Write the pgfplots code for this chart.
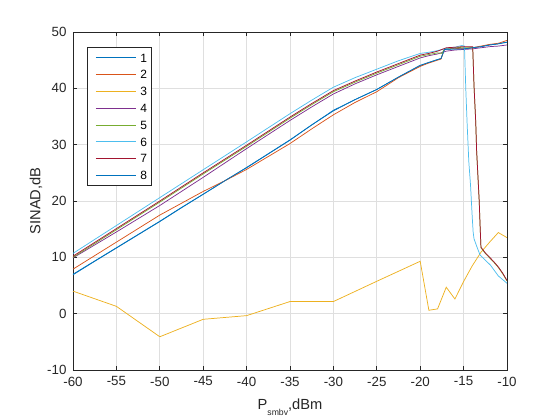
\documentclass[border=0pt]{standalone}
\usepackage{fontspec}
\setmainfont{Liberation Sans}
\usepackage{pgfplots}
\pgfplotsset{compat=1.18}
\definecolor{c1}{rgb}{0,0.447,0.741}
\definecolor{c2}{rgb}{0.85,0.325,0.098}
\definecolor{c3}{rgb}{0.929,0.694,0.125}
\definecolor{c4}{rgb}{0.494,0.184,0.556}
\definecolor{c5}{rgb}{0.466,0.674,0.188}
\definecolor{c6}{rgb}{0.301,0.745,0.933}
\definecolor{c7}{rgb}{0.635,0.078,0.184}
\definecolor{axc}{rgb}{0.15,0.15,0.15}
\definecolor{gridc}{rgb}{0.875,0.875,0.875}
\begin{document}
\begin{tikzpicture}
\useasboundingbox (0,0) rectangle (420pt,315pt);
\begin{axis}[
  at={(54.75pt,37.5pt)}, anchor=south west,
  scale only axis, width=325.5pt, height=253.5pt,
  xmin=-60, xmax=-10, ymin=-10, ymax=50,
  xtick={-60,-55,-50,-45,-40,-35,-30,-25,-20,-15,-10},
  xticklabels={-60,-55,-50,-45,-40,-35,-30,-25,-20,-15,-10},
  ytick={-10,0,10,20,30,40,50},
  yticklabels={-10,0,10,20,30,40,50},
  tick pos=both, tick align=inside, major tick length=3.3pt,
  axis line style={draw=axc, line width=0.65pt},
  every tick/.style={draw=axc, line width=0.65pt},
  grid=major, major grid style={draw=gridc, line width=0.7pt},
  ticklabel style={font=\fontsize{10}{12}\selectfont, text=axc, inner sep=0pt},
  xticklabel style={anchor=north},
  yticklabel style={anchor=east},
  x tick label style={yshift=-4.9pt},
  y tick label style={xshift=-4.7pt},
  xlabel={P\raisebox{-4.3pt}{\fontsize{6.5}{7}\selectfont smbv},dBm},
  ylabel={SINAD,dB},
  xlabel style={at={(axis description cs:0.5,-0.1164)}, anchor=base, font=\fontsize{11}{13}\selectfont, text=axc, inner sep=0pt},
  ylabel style={at={(axis description cs:-0.08525,0.5)}, anchor=center, font=\fontsize{11}{13}\selectfont, text=axc, inner sep=0pt},
  legend image code/.code={\path (0pt,0pt); \draw[#1] (2.3pt,0pt) -- (32.3pt,0pt);},
  legend style={at={(0.033,0.9547)}, anchor=north west, draw=axc, line width=0.6pt, fill=white,
    inner xsep=3.5pt, inner ysep=4.3pt, row sep=6.1pt, column sep=3.2pt,
    font=\fontsize{9}{10}\selectfont, text=black,
    nodes={inner sep=0pt, text height=6.5pt, text depth=0pt},
    cells={anchor=west}},
  every axis plot/.append style={line width=0.55pt, mark=none},
]
% 1
\addplot[c1] coordinates {(-60,7.0) (-57.5,9.35) (-55,11.7) (-52.5,14.05) (-50,16.4) (-47.5,18.85) (-45,21.2) (-42.5,23.6) (-40,25.9) (-37.5,28.35) (-35,30.8) (-32.5,33.5) (-30,36.0) (-27.5,38.0) (-25,39.8) (-22.5,42.0) (-20,44.0) (-19,44.6) (-18,45.1) (-17.6,45.3) (-17.2,46.9) (-16,47.0) (-15,47.0) (-14,47.2) (-13,47.4) (-12,47.7) (-11,47.9) (-10,48.2)};
\addlegendentry{1}
% 2
\addplot[c2] coordinates {(-60,7.9) (-57.5,10.3) (-55,12.7) (-52.5,15.1) (-50,17.5) (-47.5,19.6) (-45,21.7) (-42.5,23.6) (-40,25.6) (-37.5,27.9) (-35,30.2) (-32.5,32.8) (-30,35.3) (-27.5,37.5) (-25,39.4) (-22.5,41.9) (-20,43.9) (-19,44.5) (-18,45.0) (-17.6,45.2) (-17.2,47.0) (-16,47.1) (-15,47.0) (-14,47.2) (-13,47.5) (-12,47.8) (-11,48.0) (-10,48.5)};
\addlegendentry{2}
% 3
\addplot[c3] coordinates {(-60,4.0) (-55,1.3) (-50,-4.1) (-45,-1.0) (-40,-0.35) (-35,2.15) (-30,2.15) (-25,5.75) (-20,9.3) (-19,0.6) (-18,0.85) (-17,4.7) (-16,2.6) (-15,5.7) (-14,8.5) (-13,10.9) (-12,12.7) (-11,14.4) (-10,13.5)};
\addlegendentry{3}
% 4
\addplot[c4] coordinates {(-60,9.9) (-55,14.5) (-50,19.2) (-45,24.2) (-40,29.3) (-35,34.3) (-32.5,36.7) (-30,39.0) (-27.5,40.8) (-25,42.4) (-22.5,43.9) (-20,45.4) (-19,45.8) (-18,46.1) (-17,46.6) (-16,46.8) (-15,46.9) (-14,47.0) (-13,47.2) (-12,47.4) (-11,47.5) (-10,47.7)};
\addlegendentry{4}
% 5
\addplot[c5] coordinates {(-60,10.0) (-55,14.9) (-50,19.8) (-45,24.8) (-40,29.7) (-35,34.7) (-32.5,37.1) (-30,39.4) (-27.5,41.1) (-25,42.7) (-22.5,44.2) (-20,45.7) (-19,46.0) (-18,46.3) (-17.5,46.2) (-17.2,47.0) (-17,47.1) (-16,47.2) (-15,47.3) (-13.95,47.3) (-13.8,40.4) (-13.6,33.9) (-13.5,28.9) (-13.3,22.9) (-13.2,19.9) (-13.1,15.6) (-13.0,11.7) (-12.5,10.7) (-12,9.9) (-11.5,9.1) (-11,8.2) (-10.5,7.1) (-10,5.8)};
\addlegendentry{5}
% 6
\addplot[c6] coordinates {(-60,10.7) (-55,15.65) (-50,20.6) (-45,25.55) (-40,30.5) (-35,35.5) (-32.5,37.9) (-30,40.2) (-27.5,41.9) (-25,43.4) (-22.5,44.9) (-20,46.2) (-19,46.4) (-18,46.7) (-17,47.1) (-16,47.3) (-15.2,47.6) (-14.9,47.5) (-14.75,40) (-14.6,34) (-14.4,27) (-14.2,22.8) (-14.0,17) (-13.9,14.5) (-13.8,13.3) (-13.5,12.0) (-13.1,10.4) (-12.5,9.5) (-11.9,8.6) (-11,6.7) (-10,5.4)};
\addlegendentry{6}
% 7
\addplot[c7] coordinates {(-60,10.2) (-55,15.1) (-50,20.0) (-45,25.0) (-40,29.9) (-35,34.9) (-32.5,37.3) (-30,39.6) (-27.5,41.3) (-25,42.9) (-22.5,44.4) (-20,45.9) (-19,46.2) (-18,46.6) (-17.5,46.9) (-17,47.2) (-16,47.3) (-15,47.4) (-14.6,47.4) (-13.95,47.4) (-13.8,40.5) (-13.6,34) (-13.5,29) (-13.3,23) (-13.2,20) (-13.1,15.7) (-13.0,11.8) (-12.5,10.8) (-12,10.0) (-11.5,9.2) (-11,8.3) (-10.5,7.2) (-10,5.9)};
\addlegendentry{7}
% 8
\addplot[c1] coordinates {(-60,6.9) (-57.5,9.3) (-55,11.65) (-52.5,14.0) (-50,16.35) (-47.5,18.8) (-45,21.2) (-42.5,23.6) (-40,25.95) (-37.5,28.4) (-35,30.85) (-32.5,33.5) (-30,36.1) (-27.5,38.0) (-25,39.8) (-22.5,42.0) (-20,44.1) (-19,44.6) (-18,45.1) (-17.6,45.3) (-17.2,46.9) (-16,47.0) (-15,47.0) (-14,47.2) (-13,47.4) (-12,47.7) (-11,47.9) (-10,48.2)};
\addlegendentry{8}
\end{axis}
\end{tikzpicture}
\end{document}
